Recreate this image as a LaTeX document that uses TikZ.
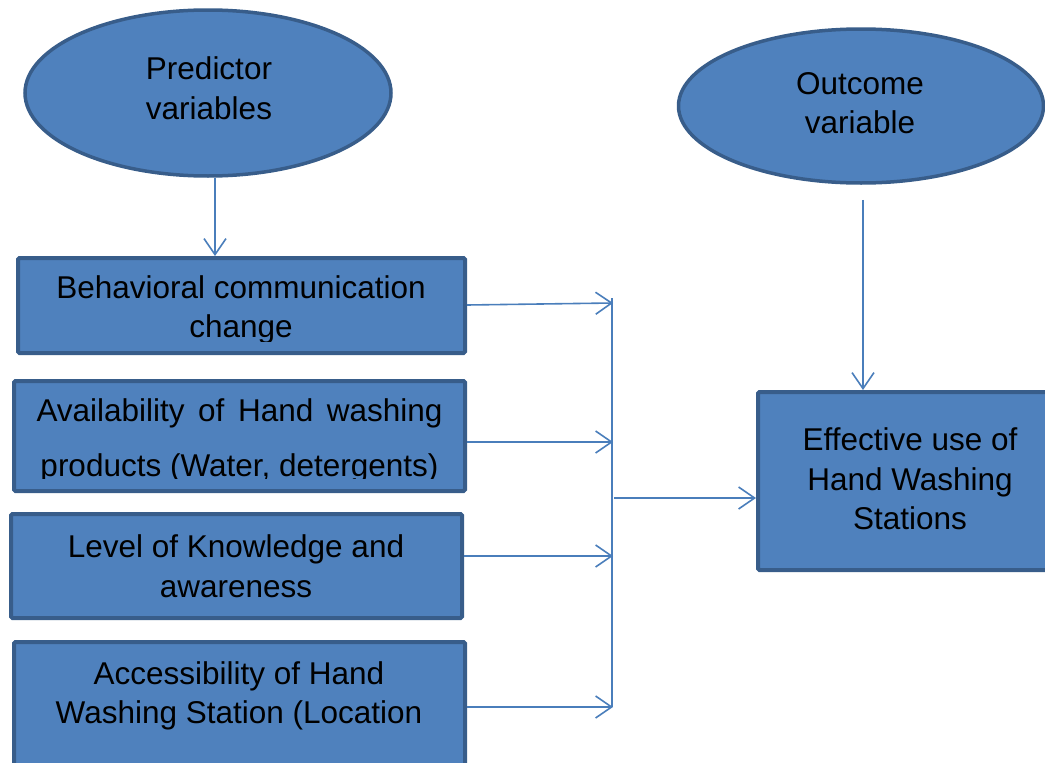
\documentclass[tikz,border=0pt]{standalone}
\usepackage{fontspec}
\setmainfont{Liberation Sans}
\usetikzlibrary{shapes.geometric,arrows.meta}
\definecolor{boxfill}{HTML}{4F81BD}
\definecolor{boxline}{HTML}{385D8A}
\definecolor{conncol}{HTML}{4A7EBB}
\tikzset{
  blk/.style={rectangle, draw=boxline, fill=boxfill, line width=4pt, rounded corners=1.5pt, inner sep=0pt},
  oval/.style={ellipse, draw=boxline, fill=boxfill, line width=3.5pt, inner sep=0pt},
  lbl/.style={align=center, inner sep=0pt, font=\fontsize{31.5}{39.5}\selectfont, text=black},
  conn/.style={draw=conncol, line width=1.6pt, -{Straight Barb[length=16pt,width=22pt,line width=1.6pt]}},
  plain/.style={draw=conncol, line width=1.6pt}
}
\begin{document}
\begin{tikzpicture}[x=1pt,y=-1pt]
\useasboundingbox (0,0) rectangle (1045,763);
% ellipses
\node[oval, minimum width=366pt, minimum height=166pt] (e1) at (208,93) {};
\node[lbl] (te1) at (209,88) {Predictor\\variables};
\node[oval, minimum width=365pt, minimum height=154pt] (e2) at (861,106) {};
\node[lbl] (te2) at (860,103) {Outcome\\variable};
% left boxes
\node[blk, minimum width=447pt, minimum height=95pt] (b1) at (241.5,305.5) {};
\begin{scope}
\clip (18,258) rectangle (465,341);
\node[lbl] (t1) at (241,310) {Behavioral communication\\change};
\end{scope}
\node[blk, minimum width=451pt, minimum height=110pt] (b2) at (239.5,436) {};
\begin{scope}
\clip (14,381) rectangle (465,478);
\node[lbl] (t2) at (239.5,441) {\makebox[406pt][s]{Availability of Hand washing}\\[15pt]products (Water, detergents)};
\end{scope}
\node[blk, minimum width=451pt, minimum height=104pt] (b3) at (236.5,566) {};
\node[lbl] (t3) at (236,566) {Level of Knowledge and\\awareness};
\node[blk, minimum width=451pt, minimum height=146pt] (b4) at (239.5,715) {};
\node[lbl] (t4) at (239,696) {Accessibility of Hand\\Washing Station (Location};
% outcome box
\node[blk, minimum width=290pt, minimum height=178pt] (bo) at (903,481) {};
\node[lbl] (to) at (910,479) {Effective use of\\Hand Washing\\Stations};
% junction coordinates
\coordinate (j1) at (613,303);
\coordinate (j2) at (613,442);
\coordinate (j3) at (613,556);
\coordinate (j4) at (613,707);
\coordinate (jt) at (612,298);
\coordinate (jb) at (612,707);
\coordinate (jm) at (614,498);
% connectors
\draw[conn] ([xshift=7pt]e1.south) -- ([xshift=7pt]e1.south |- b1.north);
\draw[conn] ([xshift=2pt,yshift=-15pt]e2.south) -- ([xshift=2pt]e2.south |- bo.north);
\draw[conn] (b1.east |- 0,305) -- (j1);
\draw[conn] (b2.east |- j2) -- (j2);
\draw[conn] (b3.east |- j3) -- (j3);
\draw[conn] (b4.east |- j4) -- (j4);
\draw[plain] (jt) -- (jb);
\draw[conn] (jm) -- (jm -| bo.west);
\end{tikzpicture}
\end{document}
